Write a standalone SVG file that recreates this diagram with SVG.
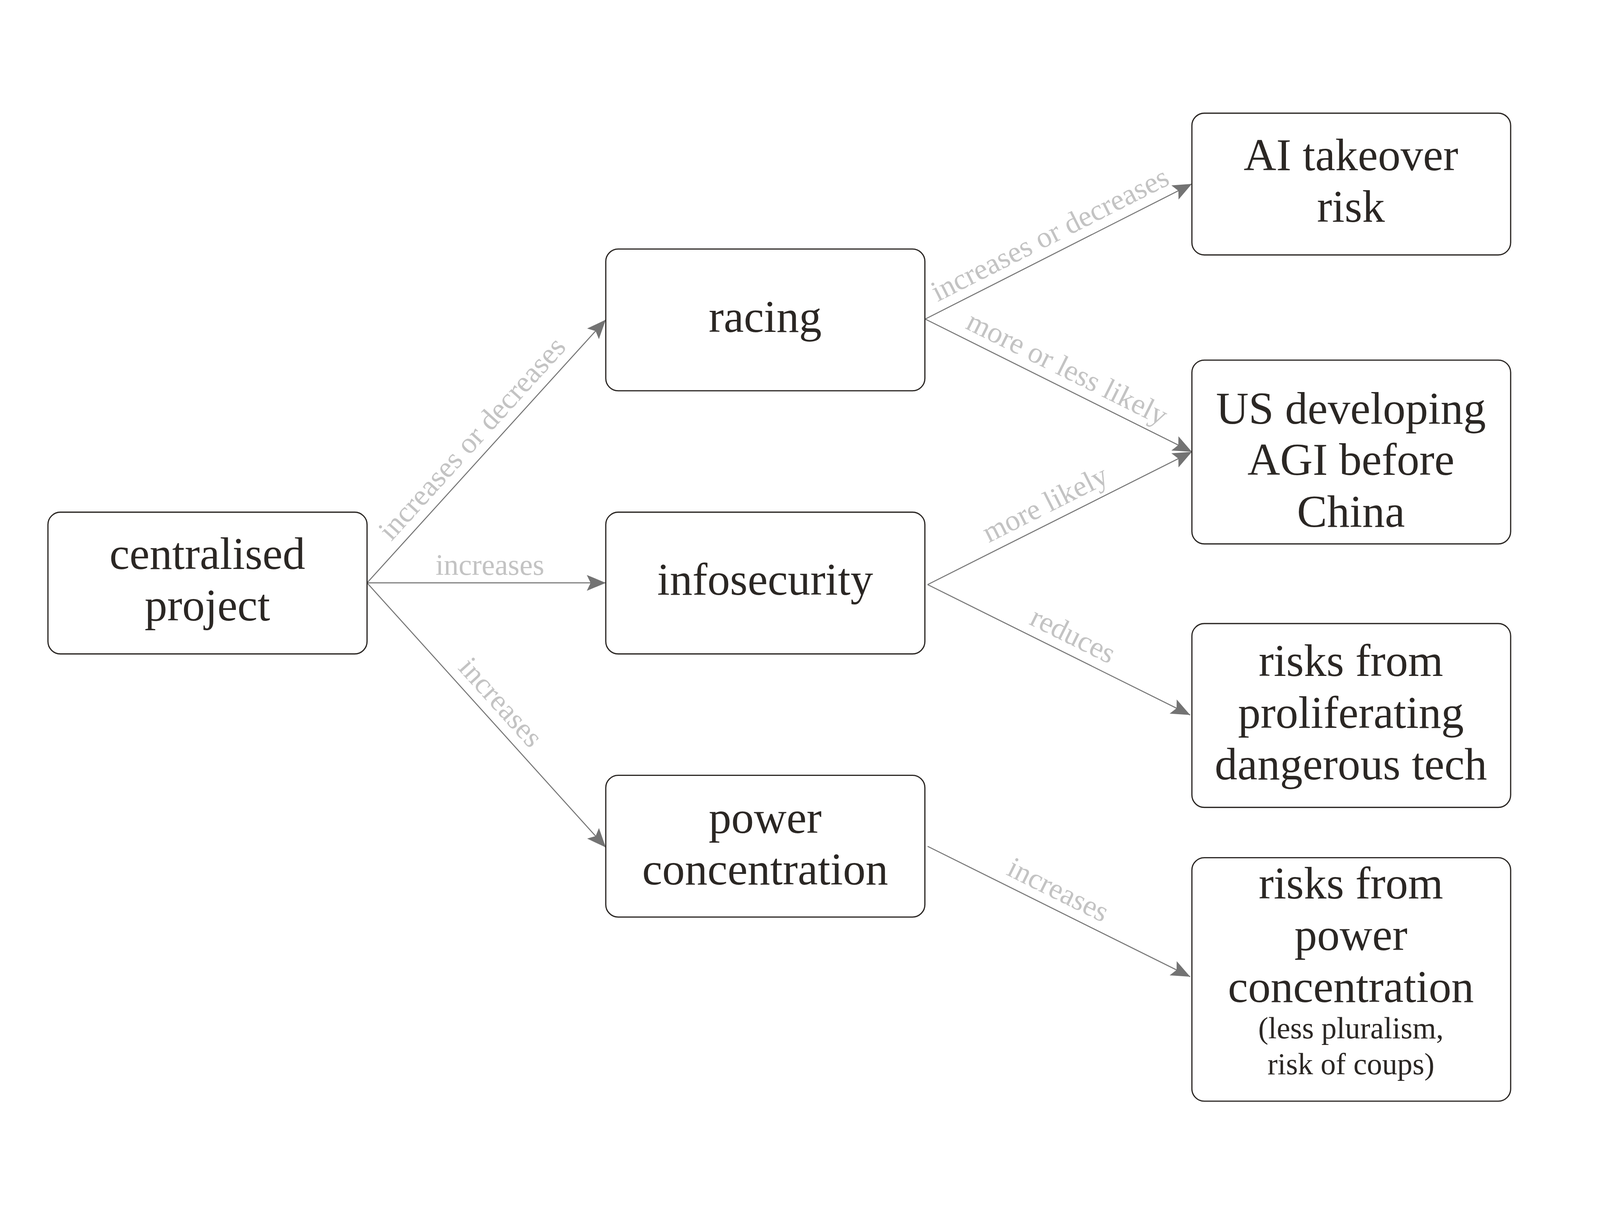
<svg xmlns="http://www.w3.org/2000/svg" width="4638" height="3132" viewBox="0 0 4638 3132">
<style>
svg{width:100vw;height:100vh}
.box{fill:#ffffff;stroke:#2b2724;stroke-width:3.5}
.t{font-family:"Liberation Serif","Times New Roman",serif;font-size:131px;fill:#2b2724;text-anchor:middle}
.s{font-family:"Liberation Serif","Times New Roman",serif;font-size:88px;fill:#2b2724;text-anchor:middle}
.edge{fill:none;stroke:#777777;stroke-width:3}
.lbl{font-family:"Liberation Serif","Times New Roman",serif;font-size:86px;fill:#c3c3c3;text-anchor:middle}
</style>
<defs>
<marker id="arr" markerUnits="userSpaceOnUse" viewBox="-57 -25 60 50" refX="0" refY="0" markerWidth="60" markerHeight="50" orient="auto">
<path d="M0,0 L-55,-23 L-44,0 L-55,23 Z" fill="#737373"/>
</marker>
</defs>
<rect width="4638" height="3132" fill="#ffffff"/>
<g id="connectors">
<line class="edge" x1="1064" y1="1483" x2="1756" y2="720" marker-end="url(#arr)"/>
<line class="edge" x1="1064" y1="1483" x2="1756" y2="1483" marker-end="url(#arr)"/>
<line class="edge" x1="1064" y1="1483" x2="1756" y2="2250" marker-end="url(#arr)"/>
<line class="edge" x1="2682" y1="718" x2="3455" y2="326" marker-end="url(#arr)"/>
<line class="edge" x1="2682" y1="718" x2="3455" y2="1103" marker-end="url(#arr)"/>
<line class="edge" x1="2689" y1="1488" x2="3455" y2="1103" marker-end="url(#arr)"/>
<line class="edge" x1="2689" y1="1488" x2="3450" y2="1866" marker-end="url(#arr)"/>
<line class="edge" x1="2689" y1="2247" x2="3450" y2="2625" marker-end="url(#arr)"/>
<text class="lbl" transform="translate(1389 1083) rotate(-47.79)">increases or decreases</text>
<text class="lbl" x="1420" y="1460">increases</text>
<text class="lbl" transform="translate(1431 1848) rotate(47.94)">increases</text>
<text class="lbl" transform="translate(3056 497) rotate(-26.89)">increases or decreases</text>
<text class="lbl" transform="translate(3081 886) rotate(26.48)">more or less likely</text>
<text class="lbl" transform="translate(3042 1279) rotate(-26.69)">more likely</text>
<text class="lbl" transform="translate(3098 1660) rotate(26.42)">reduces</text>
<text class="lbl" transform="translate(3055 2398) rotate(26.42)">increases</text>
</g>
<g id="centralised">
<rect class="box" x="139" y="1278" width="925" height="411" rx="36"/>
<text class="t" x="601" y="1443">centralised</text>
<text class="t" x="601" y="1592">project</text>
</g>
<g id="racing">
<rect class="box" x="1756" y="515" width="925" height="411" rx="36"/>
<text class="t" x="2218" y="755">racing</text>
</g>
<g id="infosecurity">
<rect class="box" x="1756" y="1278" width="925" height="411" rx="36"/>
<text class="t" x="2218" y="1517">infosecurity</text>
</g>
<g id="power">
<rect class="box" x="1756" y="2041" width="925" height="411" rx="36"/>
<text class="t" x="2218" y="2208">power</text>
<text class="t" x="2218" y="2357">concentration</text>
</g>
<g id="takeover">
<rect class="box" x="3455" y="121" width="924" height="411" rx="36"/>
<text class="t" x="3916" y="287">AI takeover</text>
<text class="t" x="3916" y="436">risk</text>
</g>
<g id="usagi">
<rect class="box" x="3455" y="837" width="924" height="533" rx="36"/>
<text class="t" x="3916" y="1021">US developing</text>
<text class="t" x="3916" y="1170">AGI before</text>
<text class="t" x="3916" y="1320">China</text>
</g>
<g id="proliferation">
<rect class="box" x="3455" y="1601" width="924" height="533" rx="36"/>
<text class="t" x="3916" y="1753">risks from</text>
<text class="t" x="3916" y="1903">proliferating</text>
<text class="t" x="3916" y="2053">dangerous tech</text>
</g>
<g id="powerrisks">
<rect class="box" x="3455" y="2280" width="924" height="706" rx="36"/>
<text class="t" x="3916" y="2398">risks from</text>
<text class="t" x="3916" y="2548">power</text>
<text class="t" x="3916" y="2698">concentration</text>
<text class="s" x="3916" y="2804">(less pluralism,</text>
<text class="s" x="3916" y="2908">risk of coups)</text>
</g>
</svg>
